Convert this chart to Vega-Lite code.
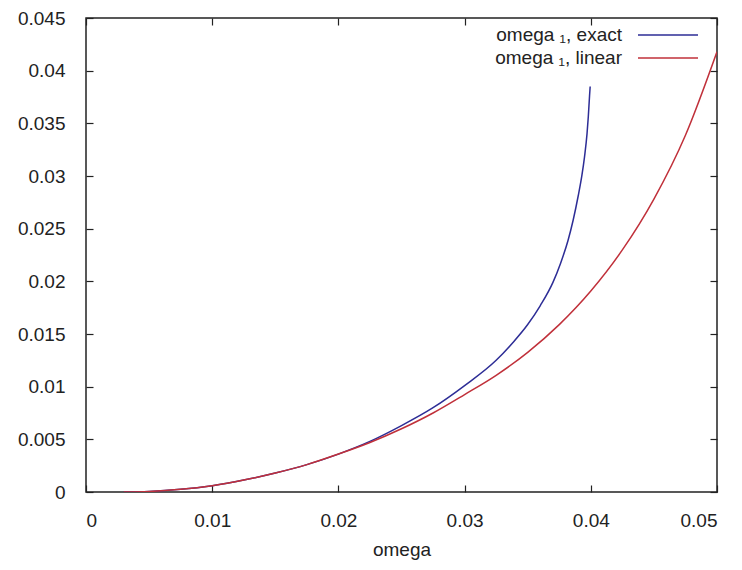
{
  "$schema": "https://vega.github.io/schema/vega-lite/v6.json",
  "width": 631,
  "height": 474,
  "autosize": "none",
  "padding": {"left": 86, "top": 18, "right": 25, "bottom": 78},
  "background": "white",
  "config": {
    "view": {"stroke": "#222", "strokeWidth": 1.5},
    "font": "Liberation Sans",
    "axis": {"domain": false, "grid": false, "labelFont": "Liberation Sans", "labelFontSize": 19, "labelColor": "#222", "tickColor": "#222", "tickSize": 7, "offset": -7, "tickWidth": 1.2, "titleFont": "Liberation Sans", "titleFontSize": 19, "titleColor": "#222", "titleFontWeight": "normal"}
  },
  "data": {"values": [
    {"omega": 0.003, "value": 0.0, "series": "omega ₁, exact"},
    {"omega": 0.005, "value": 0.00005, "series": "omega ₁, exact"},
    {"omega": 0.0075, "value": 0.00025, "series": "omega ₁, exact"},
    {"omega": 0.01, "value": 0.0006, "series": "omega ₁, exact"},
    {"omega": 0.0125, "value": 0.00113, "series": "omega ₁, exact"},
    {"omega": 0.015, "value": 0.0018, "series": "omega ₁, exact"},
    {"omega": 0.0175, "value": 0.0026, "series": "omega ₁, exact"},
    {"omega": 0.02, "value": 0.0036, "series": "omega ₁, exact"},
    {"omega": 0.0225, "value": 0.0048, "series": "omega ₁, exact"},
    {"omega": 0.025, "value": 0.0063, "series": "omega ₁, exact"},
    {"omega": 0.0275, "value": 0.008, "series": "omega ₁, exact"},
    {"omega": 0.03, "value": 0.0101, "series": "omega ₁, exact"},
    {"omega": 0.0325, "value": 0.0125, "series": "omega ₁, exact"},
    {"omega": 0.0338, "value": 0.01415, "series": "omega ₁, exact"},
    {"omega": 0.035, "value": 0.0159, "series": "omega ₁, exact"},
    {"omega": 0.036, "value": 0.0177, "series": "omega ₁, exact"},
    {"omega": 0.037, "value": 0.0199, "series": "omega ₁, exact"},
    {"omega": 0.0376, "value": 0.0217, "series": "omega ₁, exact"},
    {"omega": 0.0382, "value": 0.0239, "series": "omega ₁, exact"},
    {"omega": 0.0386, "value": 0.0258, "series": "omega ₁, exact"},
    {"omega": 0.039, "value": 0.0281, "series": "omega ₁, exact"},
    {"omega": 0.0393, "value": 0.0301, "series": "omega ₁, exact"},
    {"omega": 0.0395, "value": 0.0318, "series": "omega ₁, exact"},
    {"omega": 0.0397, "value": 0.034, "series": "omega ₁, exact"},
    {"omega": 0.0398, "value": 0.0356, "series": "omega ₁, exact"},
    {"omega": 0.0399, "value": 0.0376, "series": "omega ₁, exact"},
    {"omega": 0.03995, "value": 0.0385, "series": "omega ₁, exact"},
    {"omega": 0.003, "value": 0.0, "series": "omega ₁, linear"},
    {"omega": 0.005, "value": 0.00005, "series": "omega ₁, linear"},
    {"omega": 0.0075, "value": 0.00025, "series": "omega ₁, linear"},
    {"omega": 0.01, "value": 0.0006, "series": "omega ₁, linear"},
    {"omega": 0.0125, "value": 0.00113, "series": "omega ₁, linear"},
    {"omega": 0.015, "value": 0.0018, "series": "omega ₁, linear"},
    {"omega": 0.0175, "value": 0.0026, "series": "omega ₁, linear"},
    {"omega": 0.02, "value": 0.0036, "series": "omega ₁, linear"},
    {"omega": 0.0225, "value": 0.0047, "series": "omega ₁, linear"},
    {"omega": 0.025, "value": 0.006, "series": "omega ₁, linear"},
    {"omega": 0.0275, "value": 0.0075, "series": "omega ₁, linear"},
    {"omega": 0.03, "value": 0.00925, "series": "omega ₁, linear"},
    {"omega": 0.0325, "value": 0.01108, "series": "omega ₁, linear"},
    {"omega": 0.035, "value": 0.01326, "series": "omega ₁, linear"},
    {"omega": 0.0375, "value": 0.01589, "series": "omega ₁, linear"},
    {"omega": 0.04, "value": 0.01908, "series": "omega ₁, linear"},
    {"omega": 0.0425, "value": 0.02298, "series": "omega ₁, linear"},
    {"omega": 0.045, "value": 0.02781, "series": "omega ₁, linear"},
    {"omega": 0.0475, "value": 0.03387, "series": "omega ₁, linear"},
    {"omega": 0.05, "value": 0.0418, "series": "omega ₁, linear"}
  ]},
  "layer": [
    {
      "mark": {"type": "line", "strokeWidth": 1.5, "interpolate": "monotone", "clip": true},
      "encoding": {
        "x": {"field": "omega", "type": "quantitative", "scale": {"domain": [0, 0.05], "nice": false, "zero": false},
          "axis": {"orient": "bottom", "values": [0, 0.01, 0.02, 0.03, 0.04, 0.05], "format": "~g", "labelPadding": 19, "title": "omega", "titlePadding": 10}},
        "y": {"field": "value", "type": "quantitative", "scale": {"domain": [0, 0.045], "nice": false, "zero": false},
          "axis": {"orient": "left", "values": [0, 0.005, 0.01, 0.015, 0.02, 0.025, 0.03, 0.035, 0.04, 0.045], "format": "~g", "labelPadding": 21, "title": null}},
        "color": {"field": "series", "type": "nominal",
          "scale": {"domain": ["omega ₁, exact", "omega ₁, linear"], "range": ["#2d2d96", "#c0303a"]},
          "legend": {"orient": "none", "legendX": 569, "legendY": 4, "title": null, "padding": 0, "symbolType": "M-2.5,0L2.5,0", "symbolSize": 576, "symbolStrokeWidth": 1.5, "labelAlign": "right", "labelOffset": -59, "labelFontSize": 19, "labelFont": "Liberation Sans", "labelColor": "#222", "rowPadding": 0}}
      }
    },
    {
      "mark": {"type": "point", "opacity": 0},
      "encoding": {
        "x": {"field": "omega", "type": "quantitative", "axis": {"orient": "top", "values": [0, 0.01, 0.02, 0.03, 0.04, 0.05], "labels": false, "title": null}},
        "y": {"field": "value", "type": "quantitative", "axis": {"orient": "right", "values": [0, 0.005, 0.01, 0.015, 0.02, 0.025, 0.03, 0.035, 0.04, 0.045], "labels": false, "title": null}}
      }
    }
  ],
  "resolve": {"axis": {"x": "independent", "y": "independent"}}
}
